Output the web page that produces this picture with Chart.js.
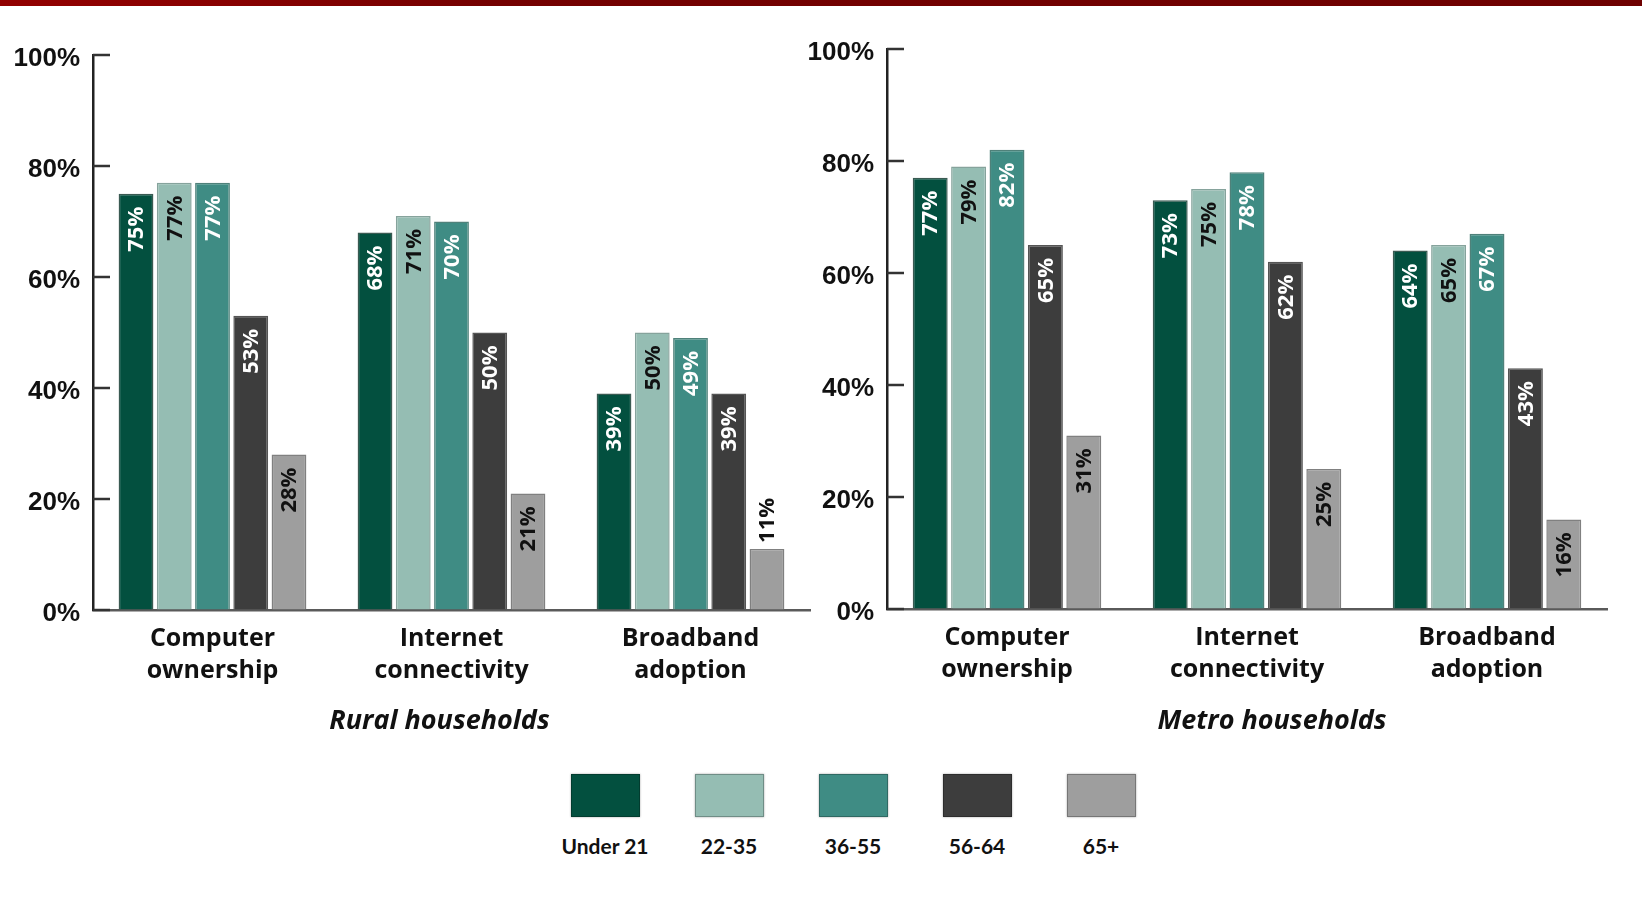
<!DOCTYPE html>
<html>
<head>
<meta charset="utf-8">
<script src="https://cdn.jsdelivr.net/npm/chart.js@4.4.1/dist/chart.umd.min.js"></script>
<style>
  html, body { margin: 0; padding: 0; background: #fff; }
  body { width: 1642px; height: 900px; position: relative; overflow: hidden; }
  #topbar { position: absolute; left: 0; top: 0; width: 1642px; height: 6px;
    background: linear-gradient(to right, #920000 0%, #8a0000 12%, #740000 30%, #6e0000 100%); }
  canvas { position: absolute; top: 0; }
  #rural { left: 0; }
  #metro { left: 800px; }
  #legend { position: absolute; left: 543px; top: 774px; display: flex; }
  .item { width: 124px; text-align: center; }
  .swatch { width: 69px; height: 43px; margin: 0 auto; box-sizing: border-box;
    border: 1.5px solid rgba(0,0,0,0.25); box-shadow: 0 0 2px rgba(0,0,0,0.35); }
  .lbl { margin-top: 16px; font: bold 21px Lato, "Open Sans", sans-serif; color: #111; }
</style>
</head>
<body>
<div id="topbar"></div>
<canvas id="rural" width="822" height="760"></canvas>
<canvas id="metro" width="842" height="760"></canvas>
<div id="legend"></div>

<script>
const categories = [['Computer', 'ownership'], ['Internet', 'connectivity'], ['Broadband', 'adoption']];
const ageGroups = ['Under 21', '22-35', '36-55', '56-64', '65+'];
const yTicks = [0, 20, 40, 60, 80, 100];

// percent of households, one array per age group: computer / internet / broadband
const ruralUnder21 = [75, 68, 39];
const rural22to35  = [77, 71, 50];
const rural36to55  = [77, 70, 49];
const rural56to64  = [53, 50, 39];
const rural65plus  = [28, 21, 11];

const metroUnder21 = [77, 73, 64];
const metro22to35  = [79, 75, 65];
const metro36to55  = [82, 78, 67];
const metro56to64  = [65, 62, 43];
const metro65plus  = [31, 25, 16];

const fills   = ['#03503f', '#95bdb3', '#3f8c84', '#3d3d3d', '#9e9e9e'];
const borders = ['#3a5a52', '#86a39c', '#4f817a', '#555555', '#808080'];
const textCol = ['#ffffff', '#111111', '#ffffff', '#ffffff', '#111111'];

// value labels, rotated, tucked under the top of each bar
const barLabels = {
  id: 'barLabels',
  afterDatasetsDraw(chart) {
    const ctx = chart.ctx;
    ctx.save();
    ctx.font = 'bold 22px "Open Sans"';
    ctx.textBaseline = 'middle';
    chart.data.datasets.forEach((ds, i) => {
      chart.getDatasetMeta(i).data.forEach((bar, j) => {
        const v = ds.data[j];
        ctx.save();
        ctx.translate(bar.x, bar.y);
        ctx.rotate(-Math.PI / 2);
        if (v < 14) {
          ctx.textAlign = 'left';
          ctx.fillStyle = '#111';
          ctx.fillText(v + '%', 6, 1);
        } else {
          ctx.textAlign = 'right';
          ctx.fillStyle = textCol[i];
          ctx.fillText(v + '%', -13, 1);
        }
        ctx.restore();
      });
    });
    ctx.restore();
  }
};

// short tick marks pointing into the plot
const innerTicks = {
  id: 'innerTicks',
  afterDraw(chart) {
    const y = chart.scales.y, ctx = chart.ctx, left = chart.chartArea.left;
    ctx.save();
    ctx.strokeStyle = '#333';
    ctx.lineWidth = 2.5;
    y.ticks.forEach(t => {
      const py = Math.round(y.getPixelForValue(t.value));
      ctx.beginPath();
      ctx.moveTo(left, py);
      ctx.lineTo(left + 17, py);
      ctx.stroke();
    });
    ctx.restore();
  }
};

// italic caption under the category labels
const caption = {
  id: 'caption',
  afterDraw(chart, args, opts) {
    const ctx = chart.ctx, area = chart.chartArea;
    ctx.save();
    ctx.font = 'italic bold 27px "Open Sans"';
    ctx.fillStyle = '#111';
    ctx.textAlign = 'center';
    ctx.textBaseline = 'middle';
    ctx.fillText(opts.text, (area.left + area.right) / 2 + opts.dx, opts.y);
    ctx.restore();
  }
};

function makeChart(id, series, title, dx, yWidth, xHeight, padTop, padRight) {
  return new Chart(document.getElementById(id), {
    type: 'bar',
    data: {
      labels: categories,
      datasets: ageGroups.map((g, i) => ({
        label: g,
        data: series[i],
        backgroundColor: fills[i],
        borderColor: borders[i],
        borderWidth: 1.5,
        categoryPercentage: 0.8,
        barPercentage: 0.91
      }))
    },
    options: {
      responsive: false,
      animation: false,
      layout: { padding: { top: padTop, right: padRight, left: 0, bottom: 0 } },
      plugins: {
        legend: { display: false },
        tooltip: { enabled: false },
        caption: { text: title, dx: dx, y: 721 }
      },
      scales: {
        x: {
          grid: { drawOnChartArea: false, drawTicks: false },
          border: { display: true, color: '#5a5a5a', width: 2.5 },
          ticks: {
            color: '#111',
            padding: 13,
            font: { family: '"Open Sans"', weight: 'bold', size: 25, lineHeight: '32px' }
          },
          afterFit(scale) { scale.height = xHeight; }
        },
        y: {
          min: yTicks[0],
          max: yTicks[yTicks.length - 1],
          grid: { drawOnChartArea: false, drawTicks: false },
          border: { display: true, color: '#222', width: 2.5 },
          afterBuildTicks(scale) { scale.ticks = yTicks.map(v => ({ value: v })); },
          ticks: {
            color: '#111',
            padding: 13,
            labelOffset: 4,
            font: { family: '"Liberation Sans"', weight: 'bold', size: 26 },
            callback: v => v + '%'
          },
          afterFit(scale) { scale.width = yWidth; }
        }
      }
    },
    plugins: [innerTicks, barLabels, caption]
  });
}

makeChart('rural',
  [ruralUnder21, rural22to35, rural36to55, rural56to64, rural65plus],
  'Rural households', -12, 93, 150, 55, 12);
makeChart('metro',
  [metroUnder21, metro22to35, metro36to55, metro56to64, metro65plus],
  'Metro households', 25, 87, 151, 49, 35);

// legend: swatch above, label below
const legend = document.getElementById('legend');
ageGroups.forEach((g, i) => {
  const item = document.createElement('div');
  item.className = 'item';
  const sw = document.createElement('div');
  sw.className = 'swatch';
  sw.style.background = fills[i];
  const lb = document.createElement('div');
  lb.className = 'lbl';
  lb.textContent = g;
  item.appendChild(sw);
  item.appendChild(lb);
  legend.appendChild(item);
});
</script>
</body>
</html>
